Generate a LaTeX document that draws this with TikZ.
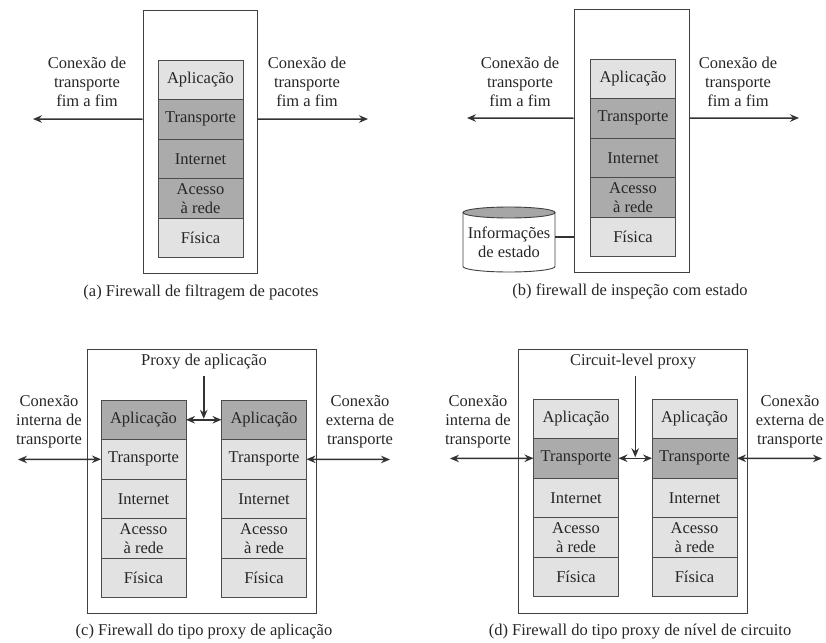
\documentclass[tikz,border=0pt]{standalone}
\usepackage{fontspec}
\setmainfont{Liberation Serif}
\usetikzlibrary{arrows.meta,positioning,calc}

\definecolor{lt}{HTML}{E2E2E2}
\definecolor{dk}{HTML}{ABABAB}
\definecolor{ink}{HTML}{262626}

% one protocol stack: prefix, x centre, y centre of top layer, five fills
\newcommand\fwstack[8]{%
  \node[layer,fill=#4] (#1-ap) at (#2,#3) {Aplicação};
  \node[layer,fill=#5,below=0pt of #1-ap] (#1-tr) {Transporte};
  \node[layer,fill=#6,below=0pt of #1-tr] (#1-in) {Internet};
  \node[layer,fill=#7,below=0pt of #1-in] (#1-ac) {Acesso\\à rede};
  \node[layer,fill=#8,below=0pt of #1-ac] (#1-fi) {Física};
}

\begin{document}
\begin{tikzpicture}[x=1pt,y=-1pt,
  font=\fontsize{16.5}{19}\selectfont,
  every node/.style={text=ink},
  tip/.tip={Stealth[length=9pt,width=7.5pt,inset=3pt]},
  layer/.style={draw=black!70,line width=0.7pt,minimum width=85pt,
    minimum height=39.5pt,inner sep=0pt,outer sep=0pt,align=center},
  fwbox/.style={draw=black!75,line width=0.9pt,inner sep=0pt},
  lbl/.style={align=center,inner sep=1pt},
  arr/.style={draw=black!80,line width=1.5pt,-tip},
  darr/.style={draw=black!80,line width=1.5pt,tip-tip},
]
\useasboundingbox (0,0) rectangle (826,642);

% ---------- (a) packet filtering ----------
\node[fwbox,minimum width=114pt,minimum height=263pt] (boxa) at (200,141.5) {};
\fwstack{a}{200.5}{79.75}{lt}{dk}{dk}{dk}{lt}
\node[lbl] (aLt) at (87,82) {Conexão de\\transporte\\fim a fim};
\node[lbl] (aRt) at (307,82) {Conexão de\\transporte\\fim a fim};
\coordinate (aL) at (33,119);
\coordinate (aR) at (368,119);
\draw[arr] (a-tr -| boxa.west) -- (aL);
\draw[arr] (a-tr -| boxa.east) -- (aR);
\node (capa) at (201,292) {(a) Firewall de filtragem de pacotes};

% ---------- (b) stateful inspection ----------
\node[fwbox,minimum width=115pt,minimum height=263pt] (boxb) at (631.5,140.5) {};
\fwstack{b}{633}{78.75}{lt}{dk}{dk}{dk}{lt}
\node[lbl] (bLt) at (520,82) {Conexão de\\transporte\\fim a fim};
\node[lbl] (bRt) at (738,82) {Conexão de\\transporte\\fim a fim};
\coordinate (bL) at (467,118);
\coordinate (bR) at (799,118);
\draw[arr] (b-tr -| boxb.west) -- (bL);
\draw[arr] (b-tr -| boxb.east) -- (bR);
% state table drum
\draw[black!75,line width=0.9pt,fill=white]
  (463,212.5) -- (463,266.5) arc[start angle=180,end angle=360,x radius=46pt,y radius=5.5pt]
  -- (555,212.5);
\draw[black!75,line width=0.9pt,fill=black!35] (509,212.5) ellipse[x radius=46pt,y radius=5.5pt];
\node[lbl,minimum width=92pt,inner sep=0pt] (db) at (509,242) {Informações\\de estado};
\draw[black!80,line width=1.5pt] ([yshift=5pt]db.east) -- ([yshift=5pt]db.east -| boxb.west);
\node (capb) at (630,291) {(b) firewall de inspeção com estado};

% ---------- (c) application proxy ----------
\node[fwbox,minimum width=229pt,minimum height=264pt] (boxc) at (201.5,481) {};
\fwstack{c1}{143.5}{419.75}{dk}{lt}{lt}{lt}{lt}
\fwstack{c2}{264}{419.75}{dk}{lt}{lt}{lt}{lt}
\node (cpx) at (204,362) {Proxy de aplicação};
\node[lbl] (cLt) at (49,422) {Conexão\\interna de\\transporte};
\node[lbl] (cRt) at (360,422) {Conexão\\externa de\\transporte};
\coordinate (cL) at (18,459.5);
\coordinate (cR) at (390,459.5);
\draw[darr] (cL) -- (c1-tr.west);
\draw[darr] (c2-tr.east) -- (cR);
\draw[darr] (c1-ap.east) -- (c2-ap.west);
\coordinate (cmid) at ($(c1-ap.east)!.5!(c2-ap.west)$);
\draw[arr] ([yshift=-3pt]cpx.south -| cmid) -- ([yshift=1pt]cmid);
\node (capc) at (204,632) {(c) Firewall do tipo proxy de aplicação};

% ---------- (d) circuit-level proxy ----------
\node[fwbox,minimum width=229pt,minimum height=264pt] (boxd) at (632.5,481) {};
\fwstack{d1}{576}{418.75}{lt}{dk}{lt}{lt}{lt}
\fwstack{d2}{694.5}{418.75}{lt}{dk}{lt}{lt}{lt}
\node (dpx) at (633,362) {Circuit-level proxy};
\node[lbl] (dLt) at (478,422) {Conexão\\interna de\\transporte};
\node[lbl] (dRt) at (790,422) {Conexão\\externa de\\transporte};
\coordinate (dL) at (450,458.5);
\coordinate (dR) at (822,458.5);
\draw[darr] (dL) -- (d1-tr.west);
\draw[darr] (d2-tr.east) -- (dR);
\draw[darr] (d1-tr.east) -- (d2-tr.west);
\coordinate (dmid) at ($(d1-tr.east)!.5!(d2-tr.west)$);
\draw[arr] ([yshift=-3pt]dpx.south -| dmid) -- ([yshift=1pt]dmid);
\node (capd) at (640,632) {(d) Firewall do tipo proxy de nível de circuito};
\end{tikzpicture}
\end{document}
